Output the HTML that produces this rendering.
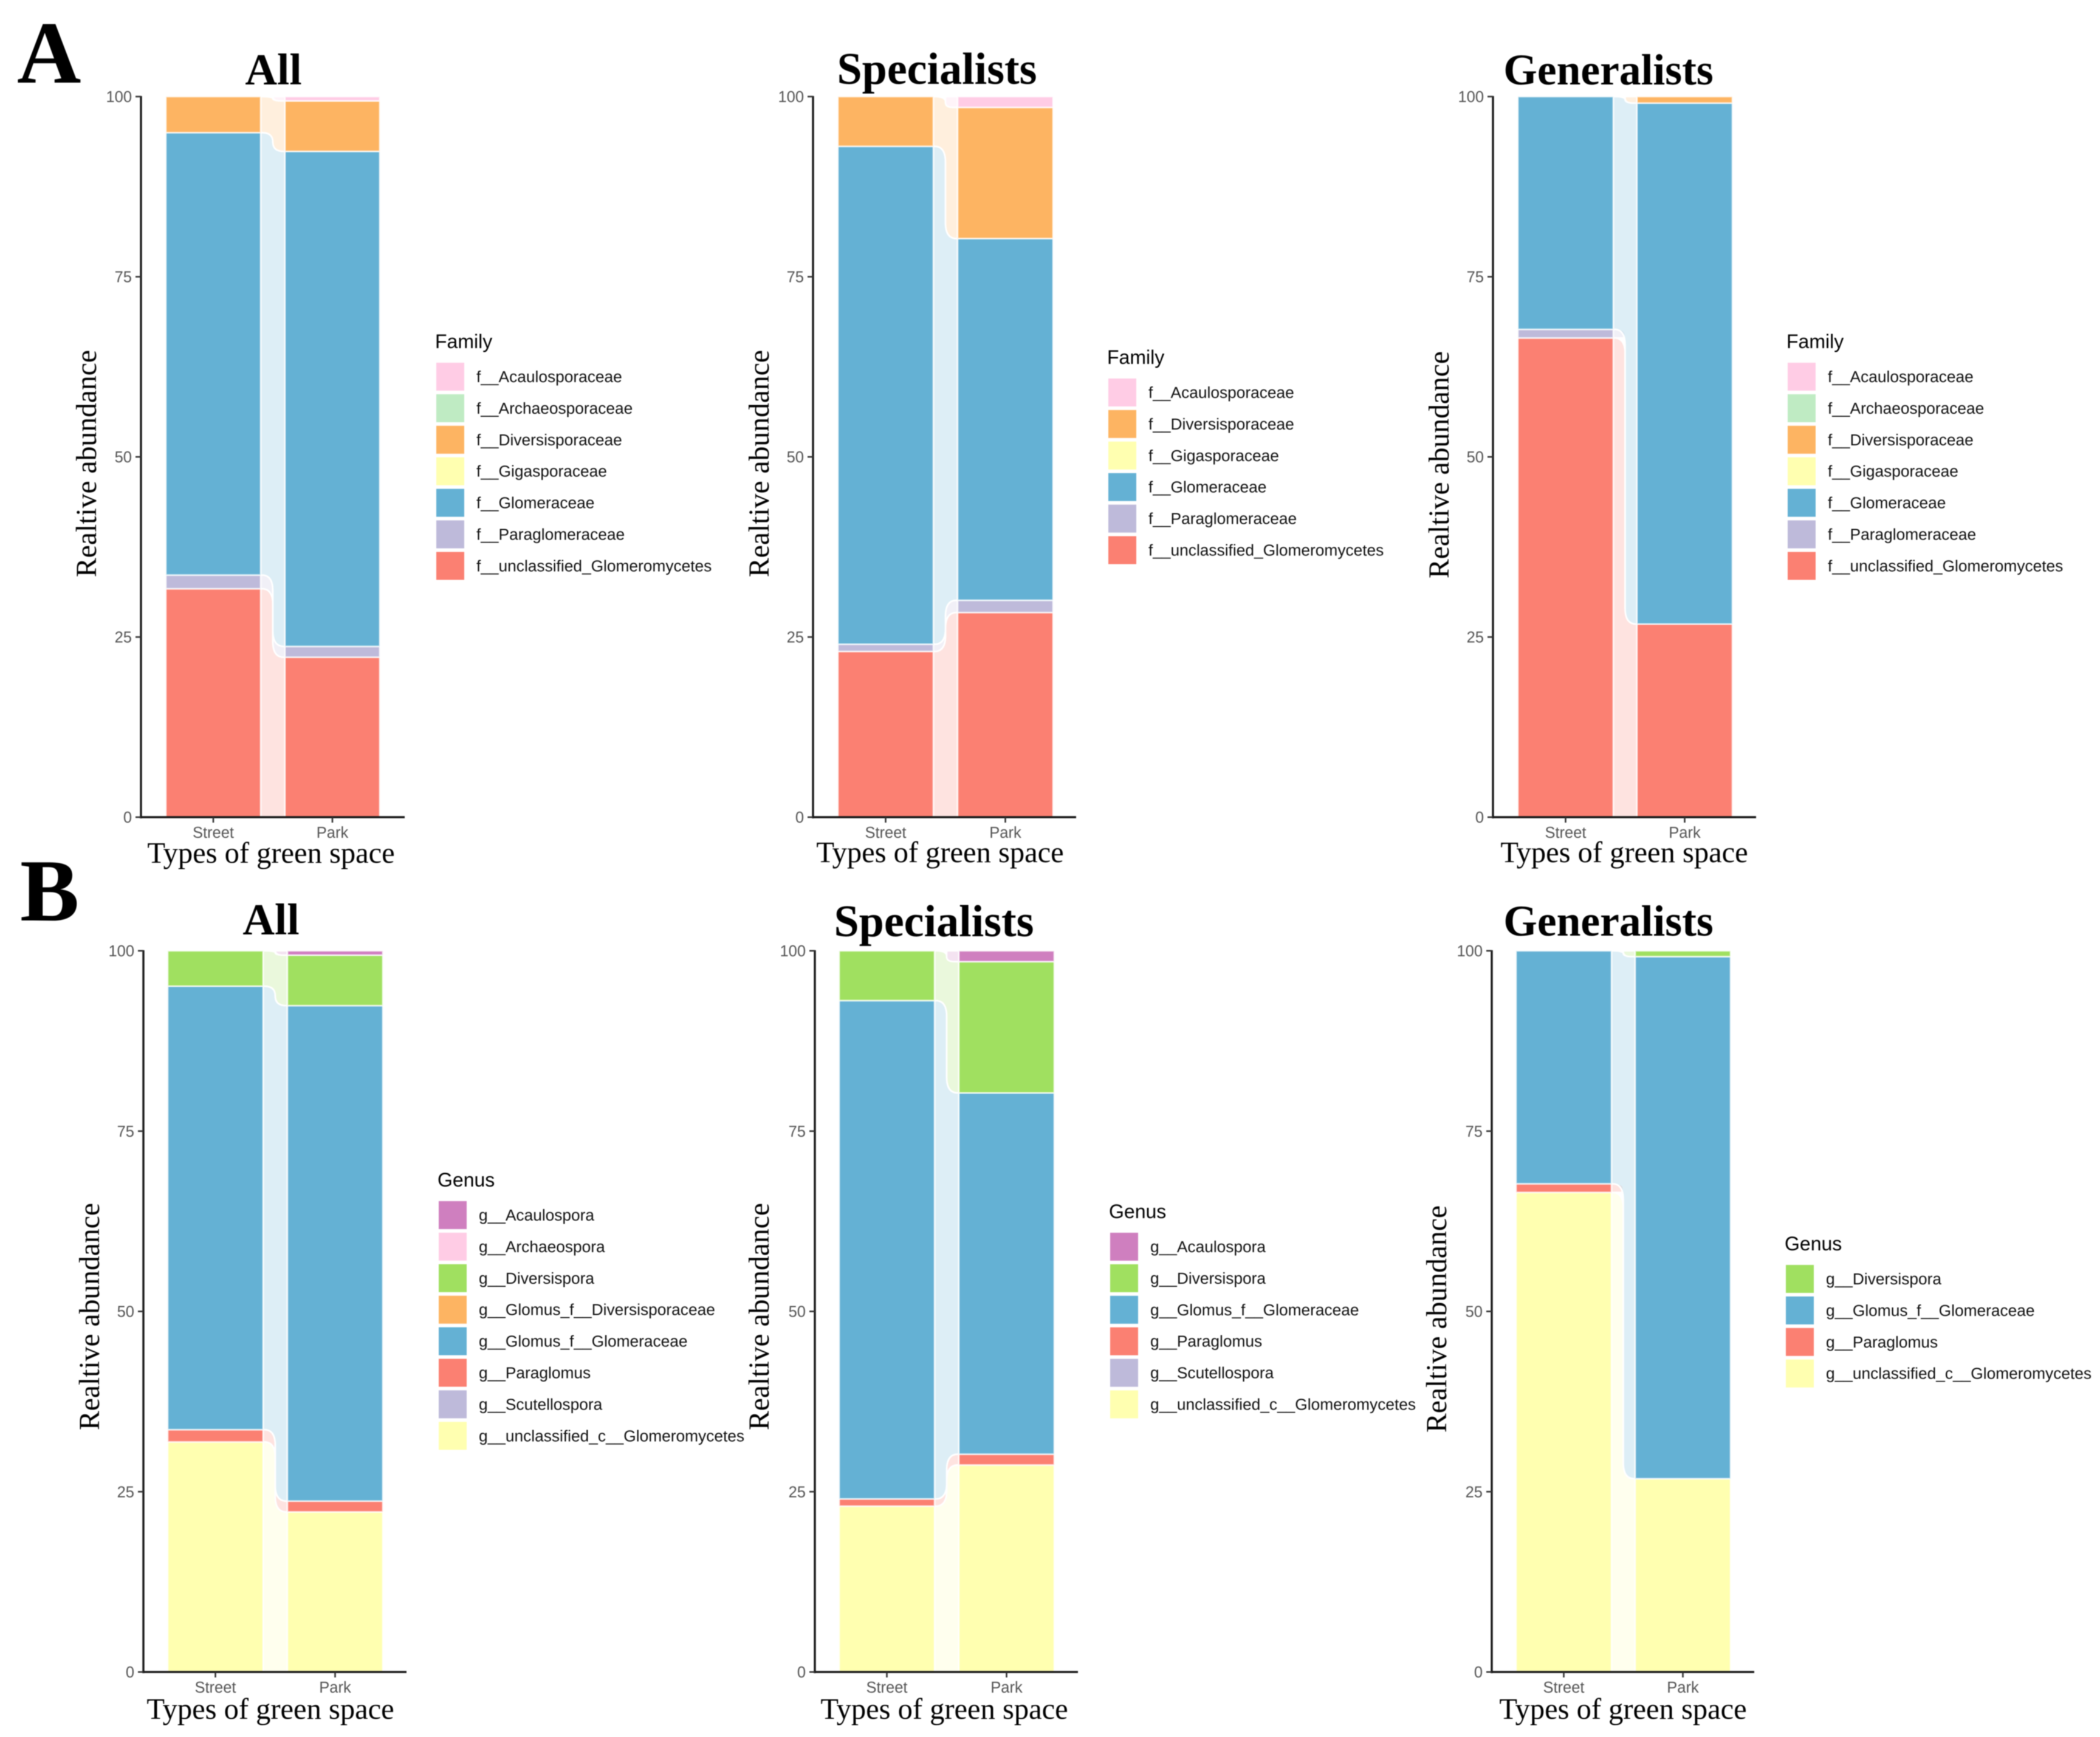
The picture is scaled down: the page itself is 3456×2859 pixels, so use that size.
<!DOCTYPE html>
<html lang="en">
<head>
<meta charset="utf-8">
<title>Relative abundance of AMF families and genera by green space type</title>
<style>
html,body{margin:0;padding:0;background:#fff;}
svg{display:block;filter:blur(0.9px);}
.panel-letter{font-family:"Liberation Serif",serif;font-weight:bold;font-size:146px;fill:#000;}
.panel-title{font-family:"Liberation Serif",serif;font-weight:bold;font-size:73px;fill:#000;text-anchor:middle;}
.title-specialists{font-size:74px;}
.title-generalists{font-size:71.5px;}
.axis-title{font-family:"Liberation Serif",serif;font-size:48.5px;fill:#000;text-anchor:middle;}
.y-title{font-size:47.6px;}
.tick-label{font-family:"Liberation Sans",sans-serif;font-size:25.5px;fill:#555;}
.legend-title{font-family:"Liberation Sans",sans-serif;font-size:32px;fill:#000;}
.legend-label{font-family:"Liberation Sans",sans-serif;font-size:26.3px;fill:#111;}
</style>
</head>
<body>
<svg id="figure" xmlns="http://www.w3.org/2000/svg" width="3456" height="2859" viewBox="0 0 3456 2859">
<rect width="3456" height="2859" fill="#fff"/>
<text class="panel-letter" x="28" y="136">A</text>
<text class="panel-letter" x="33" y="1515">B</text>

<text class="panel-title" x="450" y="139">All</text>
<text class="panel-title title-specialists" x="1542" y="138">Specialists</text>
<text class="panel-title title-generalists" x="2647" y="139">Generalists</text>
<text class="panel-title" x="446" y="1538">All</text>
<text class="panel-title title-specialists" x="1537" y="1541">Specialists</text>
<text class="panel-title title-generalists" x="2647" y="1540">Generalists</text>

<text class="axis-title y-title" transform="translate(158,763) rotate(-90)">Realtive abundance</text>
<text class="axis-title y-title" transform="translate(1265,763) rotate(-90)">Realtive abundance</text>
<text class="axis-title y-title" transform="translate(2384,765) rotate(-90)">Realtive abundance</text>
<text class="axis-title y-title" transform="translate(163,2167) rotate(-90)">Realtive abundance</text>
<text class="axis-title y-title" transform="translate(1265,2167) rotate(-90)">Realtive abundance</text>
<text class="axis-title y-title" transform="translate(2380,2171) rotate(-90)">Realtive abundance</text>

<text class="axis-title" x="446" y="1420">Types of green space</text>
<text class="axis-title" x="1547" y="1419">Types of green space</text>
<text class="axis-title" x="2673" y="1419">Types of green space</text>
<text class="axis-title" x="445" y="2829">Types of green space</text>
<text class="axis-title" x="1554" y="2829">Types of green space</text>
<text class="axis-title" x="2671" y="2829">Types of green space</text>

<g transform="translate(718,597)">
<text class="legend-title" x="-2" y="-24">Family</text>
<g transform="translate(0,0)"><rect width="46" height="46" fill="#FFCCE5"/><text class="legend-label" x="66" y="32">f__Acaulosporaceae</text></g>
<g transform="translate(0,51.9)"><rect width="46" height="46" fill="#BFEBC3"/><text class="legend-label" x="66" y="32">f__Archaeosporaceae</text></g>
<g transform="translate(0,103.8)"><rect width="46" height="46" fill="#FDB462"/><text class="legend-label" x="66" y="32">f__Diversisporaceae</text></g>
<g transform="translate(0,155.7)"><rect width="46" height="46" fill="#FFFFB0"/><text class="legend-label" x="66" y="32">f__Gigasporaceae</text></g>
<g transform="translate(0,207.6)"><rect width="46" height="46" fill="#64B1D4"/><text class="legend-label" x="66" y="32">f__Glomeraceae</text></g>
<g transform="translate(0,259.5)"><rect width="46" height="46" fill="#BEBADA"/><text class="legend-label" x="66" y="32">f__Paraglomeraceae</text></g>
<g transform="translate(0,311.4)"><rect width="46" height="46" fill="#FB8072"/><text class="legend-label" x="66" y="32">f__unclassified_Glomeromycetes</text></g>
</g>

<g transform="translate(1824,623)">
<text class="legend-title" x="-2" y="-24">Family</text>
<g transform="translate(0,0)"><rect width="46" height="46" fill="#FFCCE5"/><text class="legend-label" x="66" y="32">f__Acaulosporaceae</text></g>
<g transform="translate(0,51.9)"><rect width="46" height="46" fill="#FDB462"/><text class="legend-label" x="66" y="32">f__Diversisporaceae</text></g>
<g transform="translate(0,103.8)"><rect width="46" height="46" fill="#FFFFB0"/><text class="legend-label" x="66" y="32">f__Gigasporaceae</text></g>
<g transform="translate(0,155.7)"><rect width="46" height="46" fill="#64B1D4"/><text class="legend-label" x="66" y="32">f__Glomeraceae</text></g>
<g transform="translate(0,207.6)"><rect width="46" height="46" fill="#BEBADA"/><text class="legend-label" x="66" y="32">f__Paraglomeraceae</text></g>
<g transform="translate(0,259.5)"><rect width="46" height="46" fill="#FB8072"/><text class="legend-label" x="66" y="32">f__unclassified_Glomeromycetes</text></g>
</g>

<g transform="translate(2942,597)">
<text class="legend-title" x="-2" y="-24">Family</text>
<g transform="translate(0,0)"><rect width="46" height="46" fill="#FFCCE5"/><text class="legend-label" x="66" y="32">f__Acaulosporaceae</text></g>
<g transform="translate(0,51.9)"><rect width="46" height="46" fill="#BFEBC3"/><text class="legend-label" x="66" y="32">f__Archaeosporaceae</text></g>
<g transform="translate(0,103.8)"><rect width="46" height="46" fill="#FDB462"/><text class="legend-label" x="66" y="32">f__Diversisporaceae</text></g>
<g transform="translate(0,155.7)"><rect width="46" height="46" fill="#FFFFB0"/><text class="legend-label" x="66" y="32">f__Gigasporaceae</text></g>
<g transform="translate(0,207.6)"><rect width="46" height="46" fill="#64B1D4"/><text class="legend-label" x="66" y="32">f__Glomeraceae</text></g>
<g transform="translate(0,259.5)"><rect width="46" height="46" fill="#BEBADA"/><text class="legend-label" x="66" y="32">f__Paraglomeraceae</text></g>
<g transform="translate(0,311.4)"><rect width="46" height="46" fill="#FB8072"/><text class="legend-label" x="66" y="32">f__unclassified_Glomeromycetes</text></g>
</g>

<g transform="translate(722,1977)">
<text class="legend-title" x="-2" y="-24">Genus</text>
<g transform="translate(0,0)"><rect width="46" height="46" fill="#CF7FBF"/><text class="legend-label" x="66" y="32">g__Acaulospora</text></g>
<g transform="translate(0,51.9)"><rect width="46" height="46" fill="#FFCCE5"/><text class="legend-label" x="66" y="32">g__Archaeospora</text></g>
<g transform="translate(0,103.8)"><rect width="46" height="46" fill="#A0E060"/><text class="legend-label" x="66" y="32">g__Diversispora</text></g>
<g transform="translate(0,155.7)"><rect width="46" height="46" fill="#FDB462"/><text class="legend-label" x="66" y="32">g__Glomus_f__Diversisporaceae</text></g>
<g transform="translate(0,207.6)"><rect width="46" height="46" fill="#64B1D4"/><text class="legend-label" x="66" y="32">g__Glomus_f__Glomeraceae</text></g>
<g transform="translate(0,259.5)"><rect width="46" height="46" fill="#FB8072"/><text class="legend-label" x="66" y="32">g__Paraglomus</text></g>
<g transform="translate(0,311.4)"><rect width="46" height="46" fill="#BEBADA"/><text class="legend-label" x="66" y="32">g__Scutellospora</text></g>
<g transform="translate(0,363.3)"><rect width="46" height="46" fill="#FFFFB0"/><text class="legend-label" x="66" y="32">g__unclassified_c__Glomeromycetes</text></g>
</g>

<g transform="translate(1827,2029)">
<text class="legend-title" x="-2" y="-24">Genus</text>
<g transform="translate(0,0)"><rect width="46" height="46" fill="#CF7FBF"/><text class="legend-label" x="66" y="32">g__Acaulospora</text></g>
<g transform="translate(0,51.9)"><rect width="46" height="46" fill="#A0E060"/><text class="legend-label" x="66" y="32">g__Diversispora</text></g>
<g transform="translate(0,103.8)"><rect width="46" height="46" fill="#64B1D4"/><text class="legend-label" x="66" y="32">g__Glomus_f__Glomeraceae</text></g>
<g transform="translate(0,155.7)"><rect width="46" height="46" fill="#FB8072"/><text class="legend-label" x="66" y="32">g__Paraglomus</text></g>
<g transform="translate(0,207.6)"><rect width="46" height="46" fill="#BEBADA"/><text class="legend-label" x="66" y="32">g__Scutellospora</text></g>
<g transform="translate(0,259.5)"><rect width="46" height="46" fill="#FFFFB0"/><text class="legend-label" x="66" y="32">g__unclassified_c__Glomeromycetes</text></g>
</g>

<g transform="translate(2939,2082)">
<text class="legend-title" x="-2" y="-24">Genus</text>
<g transform="translate(0,0)"><rect width="46" height="46" fill="#A0E060"/><text class="legend-label" x="66" y="32">g__Diversispora</text></g>
<g transform="translate(0,51.9)"><rect width="46" height="46" fill="#64B1D4"/><text class="legend-label" x="66" y="32">g__Glomus_f__Glomeraceae</text></g>
<g transform="translate(0,103.8)"><rect width="46" height="46" fill="#FB8072"/><text class="legend-label" x="66" y="32">g__Paraglomus</text></g>
<g transform="translate(0,155.7)"><rect width="46" height="46" fill="#FFFFB0"/><text class="legend-label" x="66" y="32">g__unclassified_c__Glomeromycetes</text></g>
</g>
</svg>

<script>
// Chart values: percentages per taxon, listed from the bottom of each stack upward.
const categories = ['Street', 'Park'];
const yTicks = [0, 25, 50, 75, 100];

const familyAllTaxa = ['unclassified', 'paraglomeraceae', 'glomeraceae', 'diversisporaceae', 'acaulosporaceae'];
const familyAllStreet = [31.7, 1.9, 61.4, 5.0, 0];
const familyAllPark = [22.2, 1.5, 68.7, 7.0, 0.6];

const familySpecTaxa = ['unclassified', 'paraglomeraceae', 'glomeraceae', 'diversisporaceae', 'acaulosporaceae'];
const familySpecStreet = [23.0, 1.0, 69.1, 6.9, 0];
const familySpecPark = [28.4, 1.7, 50.2, 18.2, 1.5];

const familyGenTaxa = ['unclassified', 'paraglomeraceae', 'glomeraceae', 'diversisporaceae'];
const familyGenStreet = [66.5, 1.2, 32.3, 0];
const familyGenPark = [26.8, 0, 72.3, 0.9];

const genusAllTaxa = ['unclassifiedG', 'paraglomus', 'glomus', 'diversispora', 'acaulospora'];
const genusAllStreet = [31.9, 1.7, 61.5, 4.9, 0];
const genusAllPark = [22.2, 1.5, 68.7, 7.0, 0.6];

const genusSpecTaxa = ['unclassifiedG', 'paraglomus', 'glomus', 'diversispora', 'acaulospora'];
const genusSpecStreet = [23.0, 1.0, 69.1, 6.9, 0];
const genusSpecPark = [28.7, 1.5, 50.1, 18.2, 1.5];

const genusGenTaxa = ['unclassifiedG', 'paraglomus', 'glomus', 'diversispora'];
const genusGenStreet = [66.5, 1.2, 32.3, 0];
const genusGenPark = [26.8, 0, 72.4, 0.8];

// Styling and layout, kept apart from the data.
const taxonColors = {
  unclassified: '#FB8072', paraglomeraceae: '#BEBADA', glomeraceae: '#64B1D4',
  diversisporaceae: '#FDB462', acaulosporaceae: '#FFCCE5',
  unclassifiedG: '#FFFFB0', paraglomus: '#FB8072', glomus: '#64B1D4',
  diversispora: '#A0E060', acaulospora: '#CF7FBF'
};
const panels = [
  { id: 'family-all', taxa: familyAllTaxa, street: familyAllStreet, park: familyAllPark, frame: { axisX: 232, axisEnd: 666, bar1: 273, barW: 156, gap: 40, top: 159, bottom: 1345 } },
  { id: 'family-specialists', taxa: familySpecTaxa, street: familySpecStreet, park: familySpecPark, frame: { axisX: 1338, axisEnd: 1771, bar1: 1379, barW: 157, gap: 40, top: 159, bottom: 1345 } },
  { id: 'family-generalists', taxa: familyGenTaxa, street: familyGenStreet, park: familyGenPark, frame: { axisX: 2457, axisEnd: 2890, bar1: 2498, barW: 157, gap: 39, top: 159, bottom: 1345 } },
  { id: 'genus-all', taxa: genusAllTaxa, street: genusAllStreet, park: genusAllPark, frame: { axisX: 236, axisEnd: 669, bar1: 276, barW: 157, gap: 40, top: 1565, bottom: 2752 } },
  { id: 'genus-specialists', taxa: genusSpecTaxa, street: genusSpecStreet, park: genusSpecPark, frame: { axisX: 1341, axisEnd: 1774, bar1: 1381, barW: 157, gap: 40, top: 1565, bottom: 2752 } },
  { id: 'genus-generalists', taxa: genusGenTaxa, street: genusGenStreet, park: genusGenPark, frame: { axisX: 2455, axisEnd: 2887, bar1: 2495, barW: 157, gap: 39, top: 1565, bottom: 2752 } }
];

const SVG_NS = 'http://www.w3.org/2000/svg';
const figure = document.getElementById('figure');

function make(tag, attrs, parent) {
  const el = document.createElementNS(SVG_NS, tag);
  for (const key in attrs) el.setAttribute(key, attrs[key]);
  parent.appendChild(el);
  return el;
}
function yScale(frame, value) {
  return frame.bottom - (frame.bottom - frame.top) * value / 100;
}
function barLeft(frame, index) {
  return frame.bar1 + index * (frame.barW + frame.gap);
}
function cumulate(values) {
  let sum = 0;
  return values.map(v => (sum += v));
}
function edge(xA, yA, xB, yB) {
  const mid = (xA + xB) / 2;
  const sx = xB >= xA ? 1 : -1;
  const span = Math.min(Math.abs(yB - yA) / 2, 26);
  const dir = yB >= yA ? 1 : -1;
  if (span < 0.5) return 'L' + xB + ' ' + yB;
  return 'L' + (mid - sx * 18) + ' ' + yA +
    'Q' + mid + ' ' + yA + ' ' + mid + ' ' + (yA + dir * span) +
    'L' + mid + ' ' + (yB - dir * span) +
    'Q' + mid + ' ' + yB + ' ' + (mid + sx * 18) + ' ' + yB +
    'L' + xB + ' ' + yB;
}

panels.forEach(function (panel) {
  const frame = panel.frame;
  const group = make('g', {}, figure);
  
  

  const streetTops = cumulate(panel.street);
  const parkTops = cumulate(panel.park);
  const x1 = barLeft(frame, 0) + frame.barW;
  const x2 = barLeft(frame, 1);

  // Flows between the two stacked bars.
  panel.taxa.forEach(function (taxon, i) {
    const s0 = yScale(frame, i ? streetTops[i - 1] : 0);
    const s1 = yScale(frame, streetTops[i]);
    const p0 = yScale(frame, i ? parkTops[i - 1] : 0);
    const p1 = yScale(frame, parkTops[i]);
    if (panel.street[i] === 0 && panel.park[i] === 0) return;
    const midX = (x1 + x2) / 2;
    const startsEmpty = panel.street[i] === 0;
    const endsEmpty = panel.park[i] === 0;
    let d;
    if (startsEmpty) {
      d = 'M' + midX + ' ' + p1 + 'L' + x2 + ' ' + p1 + 'L' + x2 + ' ' + p0 +
        'L' + (midX + 12) + ' ' + p0 + 'Q' + midX + ' ' + p0 + ' ' + midX + ' ' + (p0 - 8) + 'Z';
    } else if (endsEmpty) {
      d = 'M' + x1 + ' ' + s1 + 'L' + (midX - 12) + ' ' + s1 + 'Q' + midX + ' ' + s1 + ' ' + midX + ' ' + (s1 + 8) +
        'L' + midX + ' ' + s0 + 'L' + x1 + ' ' + s0 + 'Z';
    } else {
      const lower = edge(x1, s0, x2, p0);
      const upperBack = edge(x2, p1, x1, s1);
      d = 'M' + x1 + ' ' + s0 + lower + 'L' + x2 + ' ' + p1 + upperBack + 'Z';
    }
    const flow = make('path', { d: d, fill: taxonColors[taxon], 'fill-opacity': 0.22, stroke: '#fff', 'stroke-width': 2.6 }, group);
    
    
  });

  // Stacked bars.
  [panel.street, panel.park].forEach(function (values, col) {
    const tops = cumulate(values);
    values.forEach(function (value, i) {
      if (value === 0) return;
      const yTop = yScale(frame, tops[i]);
      const yBase = yScale(frame, tops[i] - value);
      const bar = make('rect', {
        x: barLeft(frame, col), y: yTop, width: frame.barW, height: yBase - yTop,
        fill: taxonColors[panel.taxa[i]], stroke: '#fff', 'stroke-opacity': 0.75, 'stroke-width': 2.6
      }, group);
      
      
    });
  });

  // Axes.
  const yLine = make('line', { x1: frame.axisX, x2: frame.axisX, y1: frame.top - 1, y2: frame.bottom + 2, stroke: '#1a1a1a', 'stroke-width': 3.4 }, group);
  
  
  const xLine = make('line', { x1: frame.axisX - 2, x2: frame.axisEnd, y1: frame.bottom, y2: frame.bottom, stroke: '#1a1a1a', 'stroke-width': 3.4 }, group);
  
  

  yTicks.forEach(function (tick) {
    const y = yScale(frame, tick);
    const mark = make('line', { x1: frame.axisX - 9, x2: frame.axisX, y1: y, y2: y, stroke: '#333', 'stroke-width': 2.6 }, group);
    
    
    const label = make('text', { x: frame.axisX - 15, y: y + 9, 'text-anchor': 'end', class: 'tick-label' }, group);
    
    
    label.textContent = String(tick);
  });

  categories.forEach(function (category, col) {
    const x = barLeft(frame, col) + frame.barW / 2;
    const mark = make('line', { x1: x, x2: x, y1: frame.bottom, y2: frame.bottom + 9, stroke: '#333', 'stroke-width': 2.6 }, group);
    
    
    const label = make('text', { x: x, y: frame.bottom + 34, 'text-anchor': 'middle', class: 'tick-label' }, group);
    
    
    label.textContent = category;
  });
});
</script>
</body>
</html>
